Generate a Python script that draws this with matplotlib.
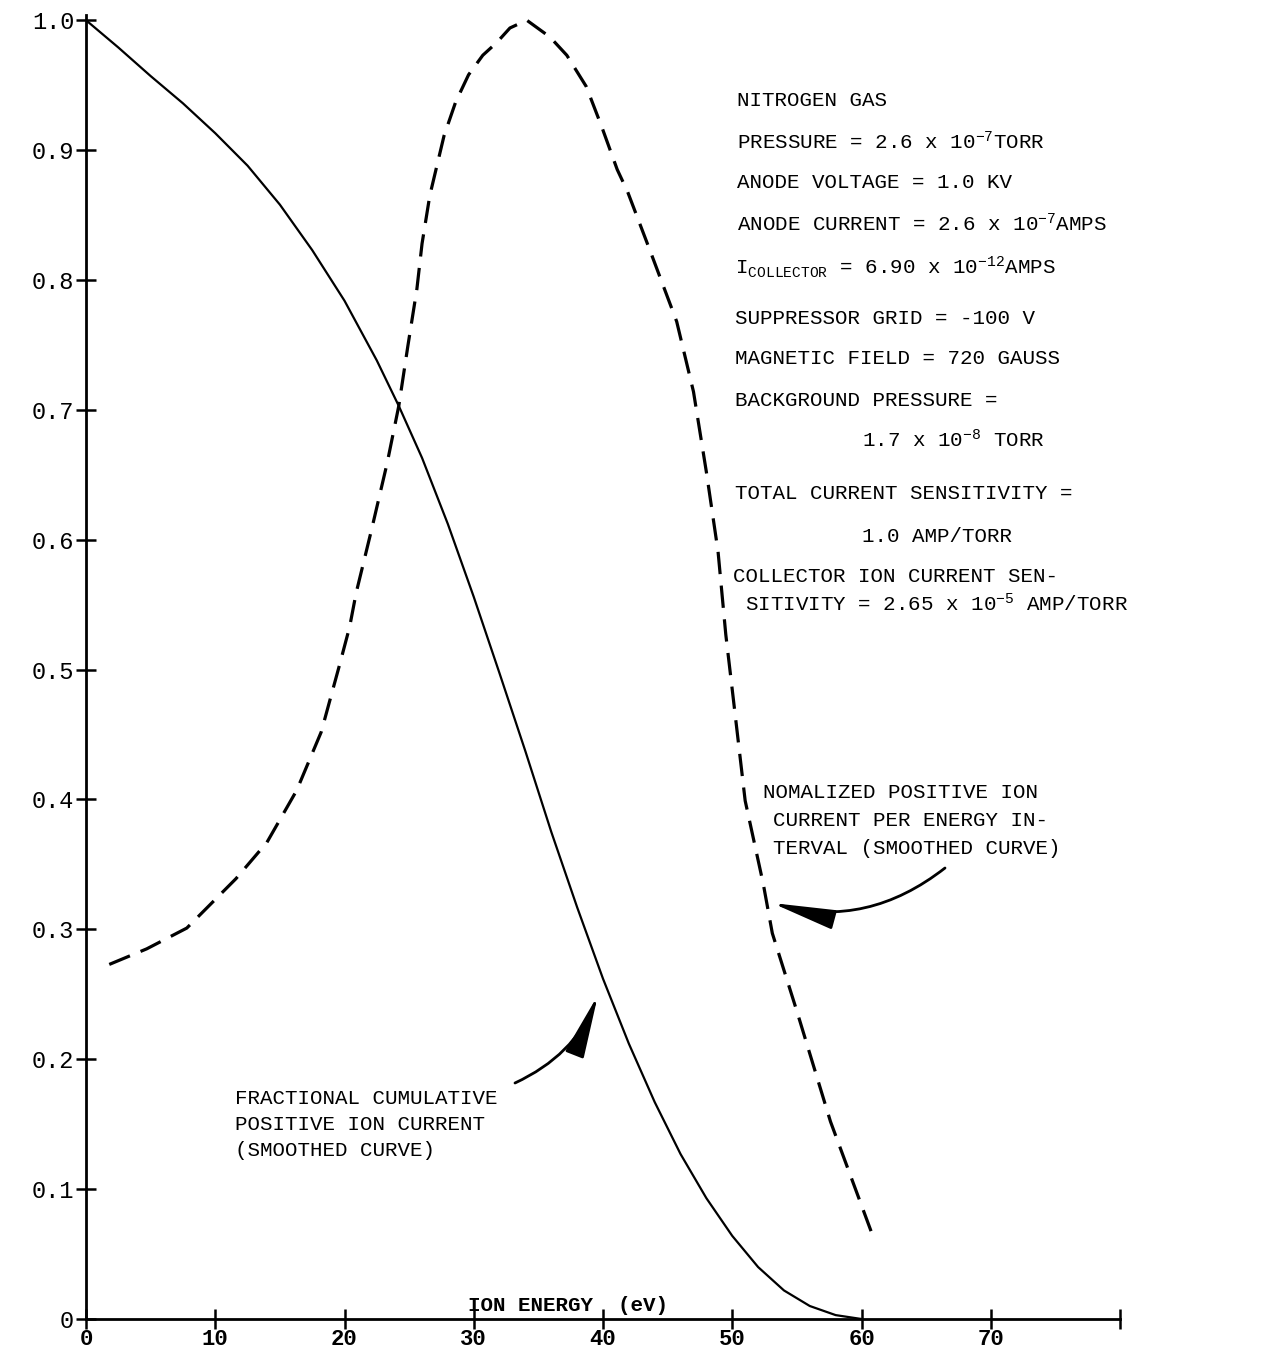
import matplotlib
matplotlib.use("Agg")
import matplotlib.pyplot as plt

plt.rcParams['font.family'] = ['Liberation Mono', 'DejaVu Sans Mono', 'DejaVu Sans']
plt.rcParams['mathtext.fontset'] = 'custom'
plt.rcParams['mathtext.rm'] = 'Liberation Mono'
plt.rcParams['mathtext.it'] = 'Liberation Mono'
plt.rcParams['mathtext.bf'] = 'Liberation Mono:bold'

# ---- data ----
cum_energy = [0, 2.5, 5, 7.5, 10, 12.5, 15, 17.5, 20, 22.5, 24.2, 26, 28, 30, 32,
              34, 36, 38, 40, 42, 44, 46, 48, 50, 52, 54, 56, 58, 60]
cum_current = [1.0, 0.979, 0.957, 0.936, 0.913, 0.888, 0.858, 0.823, 0.784, 0.738,
               0.703, 0.663, 0.612, 0.556, 0.497, 0.437, 0.375, 0.317, 0.262, 0.212,
               0.167, 0.127, 0.093, 0.064, 0.040, 0.022, 0.010, 0.003, 0.0]

norm_energy = [1.8, 4.7, 7.8, 11.6, 14.0, 16.3, 18.2, 19.6, 20.4, 20.9, 22.1, 23.3,
               24.2, 24.9, 25.6, 26.0, 26.6, 27.7, 28.6, 29.6, 30.7, 31.8, 32.8, 34.1,
               35.9, 37.2, 38.7, 39.9, 41.1, 41.9, 43.7, 45.7, 47.0, 48.0, 48.9, 49.5,
               50.1, 51.0, 52.4, 53.1, 55.0, 57.6, 60.8]
norm_current = [0.273, 0.285, 0.301, 0.339, 0.367, 0.407, 0.452, 0.503, 0.533, 0.559,
                0.608, 0.659, 0.703, 0.749, 0.793, 0.828, 0.865, 0.911, 0.937, 0.958,
                0.973, 0.983, 0.994, 1.0, 0.987, 0.973, 0.949, 0.918, 0.885, 0.868,
                0.821, 0.768, 0.714, 0.652, 0.591, 0.527, 0.476, 0.399, 0.335, 0.297,
                0.237, 0.152, 0.066]

x_ticks = [0, 10, 20, 30, 40, 50, 60, 70, 80]
x_tick_labels = ['0', '10', '20', '30', '40', '50', '60', '70', '']
y_ticks = [0, 0.1, 0.2, 0.3, 0.4, 0.5, 0.6, 0.7, 0.8, 0.9, 1.0]
y_tick_labels = ['0', '0.1', '0.2', '0.3', '0.4', '0.5', '0.6', '0.7', '0.8', '0.9', '1.0']

W, H = 1265, 1359
fig = plt.figure(figsize=(W / 100, H / 100), dpi=100)
fig.patch.set_facecolor('white')

def fx(px):
    return px / W

def fy(py):
    return 1 - py / H

ax = fig.add_axes([fx(86), fy(1319), (1120 - 86) / W, (1319 - 15) / H])
ax.set_xlim(0, 80)
ax.set_ylim(0, 1.004)
ax.patch.set_alpha(0)

for s in ['top', 'right']:
    ax.spines[s].set_visible(False)
for s in ['left', 'bottom']:
    ax.spines[s].set_linewidth(2.0)
    ax.spines[s].set_color('black')

ax.set_xticks(x_ticks)
ax.set_xticklabels(x_tick_labels, fontsize=16, fontweight='bold')
ax.set_yticks(y_ticks)
ax.set_yticklabels(y_tick_labels, fontsize=17)
ax.tick_params(axis='both', direction='inout', length=15, width=1.8, color='black')
ax.tick_params(axis='y', pad=1)
ax.tick_params(axis='x', pad=0)

ax.plot(cum_energy, cum_current, color='black', lw=1.6, solid_capstyle='round',
        solid_joinstyle='round')
ax.plot(norm_energy, norm_current, color='black', lw=2.3, dashes=(7, 3.6))

ax.text(37.3, 0.003, 'ION ENERGY  (eV)', fontsize=15, fontweight='bold',
        ha='center', va='bottom')

# ---- right side info block ----
info = [
    (737, 101, 'NITROGEN GAS'),
    (737, 142, 'PRESSURE = 2.6 x 10$^{-7}$TORR'),
    (737, 183, 'ANODE VOLTAGE = 1.0 KV'),
    (737, 224, 'ANODE CURRENT = 2.6 x 10$^{-7}$AMPS'),
    (735, 267, r'$\mathrm{I}_{\mathrm{COLLECTOR}}$ = 6.90 x 10$^{-12}$AMPS'),
    (735, 318, 'SUPPRESSOR GRID = -100 V'),
    (735, 359, 'MAGNETIC FIELD = 720 GAUSS'),
    (735, 400, 'BACKGROUND PRESSURE ='),
    (862, 440, '1.7 x 10$^{-8}$ TORR'),
    (735, 494, 'TOTAL CURRENT SENSITIVITY ='),
    (862, 536, '1.0 AMP/TORR'),
    (733, 577, 'COLLECTOR ION CURRENT SEN-'),
    (745, 604, 'SITIVITY = 2.65 x 10$^{-5}$ AMP/TORR'),
]
for px, py, s in info:
    fig.text(fx(px), fy(py), s, fontsize=15, ha='left', va='center')

# ---- annotations ----
fig.text(fx(763), fy(793), 'NOMALIZED POSITIVE ION', fontsize=15, ha='left', va='center')
fig.text(fx(773), fy(820), 'CURRENT PER ENERGY IN-', fontsize=15, ha='left', va='center')
fig.text(fx(773), fy(848), 'TERVAL (SMOOTHED CURVE)', fontsize=15, ha='left', va='center')

fig.text(fx(235), fy(1099), 'FRACTIONAL CUMULATIVE', fontsize=15, ha='left', va='center')
fig.text(fx(235), fy(1125), 'POSITIVE ION CURRENT', fontsize=15, ha='left', va='center')
fig.text(fx(235), fy(1151), '(SMOOTHED CURVE)', fontsize=15, ha='left', va='center')

ax.annotate('', xy=(fx(772), fy(903)), xycoords='figure fraction',
            xytext=(fx(945), fy(868)), textcoords='figure fraction',
            arrowprops=dict(arrowstyle='-|>,head_length=2.6,head_width=0.4',
                            connectionstyle='arc3,rad=-0.25', color='black',
                            lw=2.0, shrinkA=0, shrinkB=0, mutation_scale=15))
ax.annotate('', xy=(fx(598), fy(995)), xycoords='figure fraction',
            xytext=(fx(515), fy(1083)), textcoords='figure fraction',
            arrowprops=dict(arrowstyle='-|>,head_length=2.6,head_width=0.4',
                            connectionstyle='arc3,rad=0.2', color='black',
                            lw=2.0, shrinkA=0, shrinkB=0, mutation_scale=15))

fig.savefig('out.png', dpi=100, facecolor='white')
